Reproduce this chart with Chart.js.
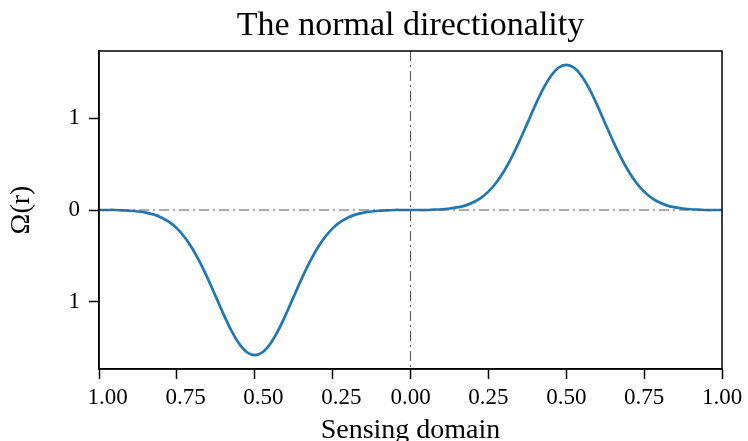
<!DOCTYPE html>
<html>
<head>
<meta charset="utf-8">
<script src="https://cdn.jsdelivr.net/npm/chart.js@4.4.1/dist/chart.umd.min.js"></script>
<style>
  html, body { margin: 0; padding: 0; background: #fff; }
  #wrap { width: 748px; height: 441px; }
</style>
</head>
<body>
<div id="wrap"><canvas id="omegaChart"></canvas></div>
<script>
'use strict';

const titleText = 'The normal directionality';
const xLabel = 'Sensing domain';
const yLabel = 'Ω(r)';

// sensing domain positions and the read-off curve values
const r = [-1.000, -0.975, -0.950, -0.925, -0.900, -0.875, -0.850, -0.825, -0.800, -0.775,
           -0.750, -0.725, -0.700, -0.675, -0.650, -0.625, -0.600, -0.575, -0.550, -0.525,
           -0.500, -0.475, -0.450, -0.425, -0.400, -0.375, -0.350, -0.325, -0.300, -0.275,
           -0.250, -0.225, -0.200, -0.175, -0.150, -0.125, -0.100, -0.075, -0.050, -0.025,
            0.000,  0.025,  0.050,  0.075,  0.100,  0.125,  0.150,  0.175,  0.200,  0.225,
            0.250,  0.275,  0.300,  0.325,  0.350,  0.375,  0.400,  0.425,  0.450,  0.475,
            0.500,  0.525,  0.550,  0.575,  0.600,  0.625,  0.650,  0.675,  0.700,  0.725,
            0.750,  0.775,  0.800,  0.825,  0.850,  0.875,  0.900,  0.925,  0.950,  0.975, 1.000];
const omega = [0.00, 0.00, 0.00, -0.004, -0.008, -0.016, -0.028, -0.048, -0.081, -0.130,
               -0.200, -0.297, -0.422, -0.576, -0.752, -0.943, -1.136, -1.312, -1.455, -1.548,
               -1.580, -1.548, -1.455, -1.312, -1.136, -0.943, -0.752, -0.576, -0.422, -0.297,
               -0.200, -0.130, -0.081, -0.048, -0.028, -0.016, -0.008, -0.004, 0.00, 0.00,
                0.00, 0.00, 0.00, 0.004, 0.008, 0.016, 0.028, 0.048, 0.081, 0.130,
                0.200, 0.297, 0.422, 0.576, 0.752, 0.943, 1.136, 1.312, 1.455, 1.548,
                1.580, 1.548, 1.455, 1.312, 1.136, 0.943, 0.752, 0.576, 0.422, 0.297,
                0.200, 0.130, 0.081, 0.048, 0.028, 0.016, 0.008, 0.004, 0.00, 0.00, 0.00];

const xTicks = [-1, -0.75, -0.5, -0.25, 0, 0.25, 0.5, 0.75, 1];
const yTicks = [-1, 0, 1];
const refX = 0;
const refY = 0;

const serif = '"Liberation Serif", "Times New Roman", serif';

// dash-dot zero lines, full frame and the title
const framePlugin = {
    id: 'frame',
    afterDatasetsDraw(chart) {
        const { ctx, chartArea: a, scales: { x, y } } = chart;
        const x0 = x.getPixelForValue(refX);
        const y0 = y.getPixelForValue(refY);
        ctx.save();
        ctx.strokeStyle = '#5a5a5a';
        ctx.lineWidth = 1.1;
        ctx.setLineDash([10, 4, 2, 4]);
        ctx.beginPath();
        ctx.moveTo(a.left, y0); ctx.lineTo(a.right, y0);
        ctx.moveTo(x0, a.top); ctx.lineTo(x0, a.bottom);
        ctx.stroke();
        ctx.setLineDash([]);
        ctx.strokeStyle = '#000';
        ctx.lineWidth = 1.5;
        ctx.strokeRect(a.left, a.top, a.right - a.left, a.bottom - a.top);
        ctx.restore();
    },
    afterDraw(chart) {
        const { ctx, chartArea: a } = chart;
        ctx.save();
        ctx.font = '34px ' + serif;
        ctx.fillStyle = '#000';
        ctx.textAlign = 'center';
        ctx.textBaseline = 'alphabetic';
        ctx.fillText(titleText, (a.left + a.right) / 2, 35);
        ctx.restore();
    },
};

new Chart(document.getElementById('omegaChart'), {
    type: 'line',
    data: {
        datasets: [{
            data: r.map((v, i) => ({ x: v, y: omega[i] })),
            borderColor: '#1f77b4',
            borderWidth: 2.7,
            pointRadius: 0,
            fill: false,
            tension: 0.35,
        }],
    },
    options: {
        responsive: true, maintainAspectRatio: false, animation: false,
        layout: { padding: { left: 0, right: 26, top: 51, bottom: 0 } },
        plugins: { legend: { display: false }, tooltip: { enabled: false } },
        scales: {
            x: {
                type: 'linear', min: -1, max: 1,
                afterBuildTicks: s => { s.ticks = xTicks.map(v => ({ value: v })); },
                afterFit: s => { s.height = 72; },
                grid: { drawOnChartArea: false, drawTicks: true, tickLength: 10, tickColor: '#000', tickWidth: 1.5 },
                border: { display: true, color: '#000', width: 1.5 },
                ticks: {
                    color: '#000', padding: 5, maxRotation: 0,
                    font: { family: serif, size: 23 },
                    callback: v => (v < 0 ? '\u2002\u2005' : '') + Math.abs(v).toFixed(2),
                },
                title: { display: true, text: xLabel, color: '#000', font: { family: serif, size: 28, lineHeight: 1 }, padding: { top: 0, bottom: -4 } },
            },
            y: {
                type: 'linear', min: -1.73, max: 1.73,
                afterBuildTicks: s => { s.ticks = yTicks.map(v => ({ value: v })); },
                afterFit: s => { s.width = 99; },
                grid: { drawOnChartArea: false, drawTicks: true, tickLength: 10, tickColor: '#000', tickWidth: 1.5 },
                border: { display: true, color: '#000', width: 1.5 },
                ticks: {
                    color: '#000', padding: 9,
                    font: { family: serif, size: 23 },
                    callback: v => Math.abs(v).toFixed(0),
                },
                title: { display: true, text: yLabel, color: '#000', font: { family: serif, size: 28, lineHeight: 1 }, padding: { top: 8, bottom: 0 } },
            },
        },
    },
    plugins: [framePlugin],
});
</script>
</body>
</html>
